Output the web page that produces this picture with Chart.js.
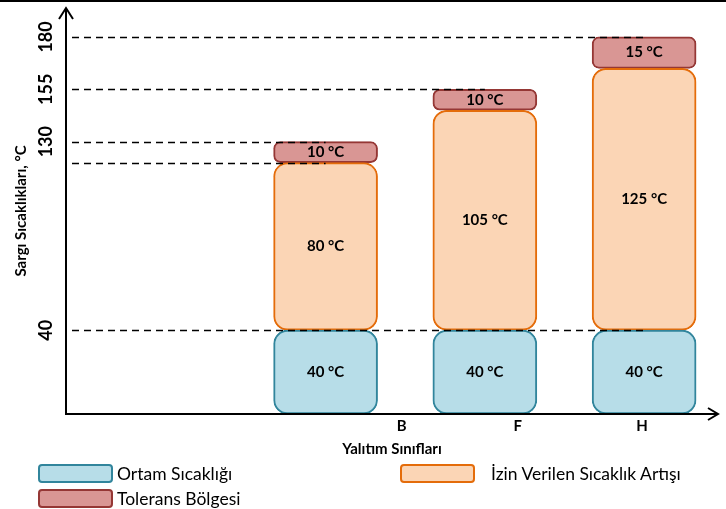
<!DOCTYPE html>
<html>
<head>
<meta charset="utf-8">
<script src="https://cdn.jsdelivr.net/npm/chart.js@4.4.1/dist/chart.umd.min.js"></script>
<style>
  html, body { margin: 0; padding: 0; background: #fff; }
  #wrap { position: relative; width: 726px; height: 509px; }
  #legend {
    position: absolute; left: 38px; top: 464px;
    display: grid; grid-template-columns: 362px auto; row-gap: 6px;
    font-family: Lato, sans-serif; font-size: 17.5px; color: #000;
  }
  .item { display: flex; align-items: center; height: 19px; }
  .box { box-sizing: border-box; width: 75px; height: 19px; border: 2px solid; border-radius: 4px; }
  .item span { margin-left: 4px; }
  .item:nth-child(2) span { margin-left: 16px; }
</style>
</head>
<body>
<div id="wrap">
  <canvas id="chart" width="726" height="509"></canvas>
  <div id="legend"></div>
</div>
<script>
const classes = ['B', 'F', 'H'];
const ambient = [40, 40, 40];
const allowedRise = [80, 105, 125];
const tolerance = [10, 10, 15];
const tickValues = [40, 130, 155, 180];
// dashed guide levels, and which class bar each one runs to
const guideLevels = [40, 120, 130, 155, 180];
const guideClass = [2, 0, 0, 1, 2];

Chart.defaults.font.family = 'Lato';
Chart.defaults.color = '#000';

const points = arr => arr.map((v, i) => ({ x: i + 1, y: v }));
const corners = r => ({ topLeft: r, topRight: r, bottomLeft: r, bottomRight: r });

const decorations = {
    id: 'decorations',
    beforeDraw(chart) {
        const ctx = chart.ctx;
        ctx.save();
        ctx.fillStyle = '#000';
        ctx.fillRect(0, 0, chart.width, 2);
        ctx.restore();
    },
    afterDatasetsDraw(chart) {
        const { ctx, chartArea: a, scales: { x, y } } = chart;
        const meta0 = chart.getDatasetMeta(0);
        ctx.save();

        // dashed guides
        ctx.strokeStyle = '#000';
        ctx.lineWidth = 1.5;
        ctx.setLineDash([7, 5]);
        guideLevels.forEach((v, i) => {
            const py = Math.round(y.getPixelForValue(v)) + 0.5;
            ctx.beginPath();
            ctx.moveTo(a.left + 6, py);
            ctx.lineTo(meta0.data[guideClass[i]].x, py);
            ctx.stroke();
        });
        ctx.setLineDash([]);

        // values inside the bars
        ctx.fillStyle = '#000';
        ctx.font = 'bold 15px Lato';
        ctx.textAlign = 'center';
        ctx.textBaseline = 'middle';
        chart.data.datasets.forEach((ds, d) => {
            chart.getDatasetMeta(d).data.forEach((bar, i) => {
                const p = bar.getProps(['x', 'y', 'base'], true);
                ctx.fillText(ds.data[i].y + ' °C', p.x, (p.y + p.base) / 2);
            });
        });

        // axes with arrow heads
        ctx.lineWidth = 2;
        ctx.beginPath();
        ctx.moveTo(a.left, a.bottom);
        ctx.lineTo(a.left, a.top);
        ctx.moveTo(a.left - 7, a.top + 11);
        ctx.lineTo(a.left, a.top);
        ctx.lineTo(a.left + 7, a.top + 11);
        ctx.moveTo(a.left - 1, a.bottom);
        ctx.lineTo(a.right, a.bottom);
        ctx.moveTo(a.right - 10, a.bottom - 6);
        ctx.lineTo(a.right, a.bottom);
        ctx.lineTo(a.right - 10, a.bottom + 6);
        ctx.stroke();

        // class labels under the axis
        const shift = [76, 33, -2];
        ctx.font = 'bold 15px Lato';
        classes.forEach((c, i) => {
            ctx.fillText(c, x.getPixelForValue(i + 1) + shift[i], a.bottom + 12);
        });

        // rotated temperature ticks
        ctx.font = 'bold 18px Lato';
        tickValues.forEach(v => {
            ctx.save();
            ctx.translate(46, y.getPixelForValue(v));
            ctx.rotate(-Math.PI / 2);
            ctx.fillText(String(v), 0, 0);
            ctx.restore();
        });
        ctx.restore();
    }
};

const chart = new Chart(document.getElementById('chart'), {
    type: 'bar',
    data: {
        datasets: [{
            label: 'Ortam Sıcaklığı',
            data: points(ambient),
            backgroundColor: '#B7DDE8',
            borderColor: '#31859C',
            borderRadius: corners(14)
        }, {
            label: 'İzin Verilen Sıcaklık Artışı',
            data: points(allowedRise),
            backgroundColor: '#FBD5B5',
            borderColor: '#E46C0A',
            borderRadius: corners(14)
        }, {
            label: 'Tolerans Bölgesi',
            data: points(tolerance),
            backgroundColor: '#D99694',
            borderColor: '#953735',
            borderRadius: corners(7)
        }]
    },
    options: {
        responsive: false,
        animation: false,
        layout: { padding: { left: 4, right: 8, top: 8, bottom: 51 } },
        datasets: {
            bar: { borderWidth: 2, borderSkipped: false, barThickness: 104 }
        },
        scales: {
            x: {
                type: 'linear',
                stacked: true,
                offset: false,
                min: -0.63,
                max: 3.464,
                ticks: { display: false },
                grid: { display: false, drawTicks: false },
                border: { display: false },
                title: {
                    display: true,
                    text: 'Yalıtım Sınıfları',
                    font: { size: 15, weight: 'bold' },
                    padding: { top: 26, bottom: 0 }
                }
            },
            y: {
                stacked: true,
                min: 0,
                max: 193.8,
                ticks: { display: false },
                grid: { display: false, drawTicks: false },
                border: { display: false },
                title: {
                    display: true,
                    text: 'Sargı Sıcaklıkları, °C',
                    font: { size: 15, weight: 'bold' },
                    padding: { top: 8, bottom: 36 }
                }
            }
        },
        plugins: {
            legend: { display: false },
            tooltip: { enabled: false }
        }
    },
    plugins: [decorations]
});

// legend laid out in two columns like the original
const legend = document.getElementById('legend');
chart.data.datasets.forEach(ds => {
    const item = document.createElement('div');
    item.className = 'item';
    const box = document.createElement('div');
    box.className = 'box';
    box.style.background = ds.backgroundColor;
    box.style.borderColor = ds.borderColor;
    const text = document.createElement('span');
    text.textContent = ds.label;
    item.appendChild(box);
    item.appendChild(text);
    legend.appendChild(item);
});
</script>
</body>
</html>
